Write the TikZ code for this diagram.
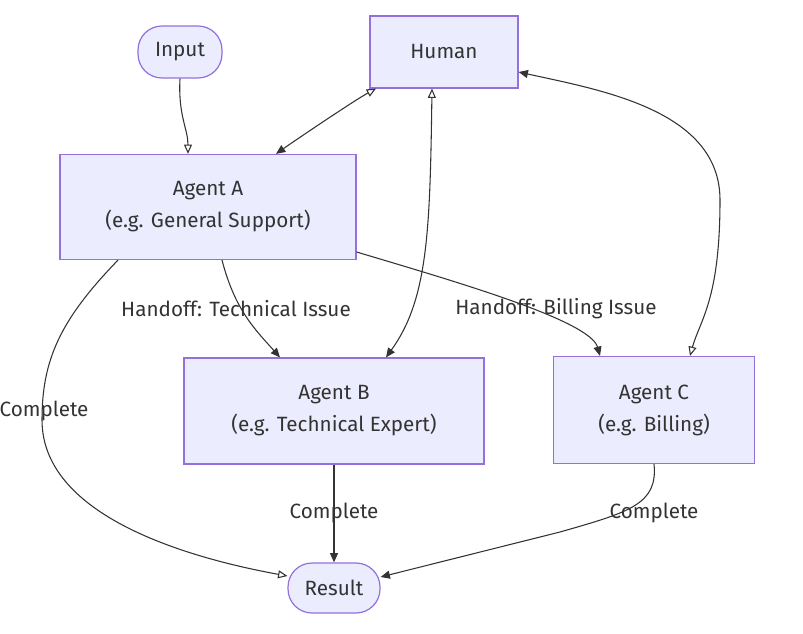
\documentclass[tikz,border=0pt]{standalone}
\usepackage{fontspec}
\setmainfont{Fira Sans}
\usetikzlibrary{arrows.meta,calc}
\definecolor{nodefill}{HTML}{ECECFF}
\definecolor{nodeline}{HTML}{9370DB}
\definecolor{ink}{HTML}{333333}
\begin{document}
\begin{tikzpicture}[x=0.75pt,y=-0.75pt,
  base/.style={draw=nodeline, fill=nodefill, line width=0.9pt, text=ink, align=center,
    font=\fontsize{15.5}{24}\selectfont, inner sep=0pt},
  boxnode/.style={base, rectangle},
  pill/.style={base, rounded corners=18pt},
  lbl/.style={text=ink, font=\fontsize{15.5}{16}\selectfont, inner sep=1pt},
  conn/.style={draw=ink, line width=0.8pt},
  fa/.style={conn, -{Triangle[length=7pt,width=6pt]}},
  oa/.style={conn, -{Triangle[open,length=7pt,width=6pt]}},
  ofa/.style={conn, {Triangle[open,length=7pt,width=6pt]}-{Triangle[length=7pt,width=6pt]}},
  ffo/.style={conn, {Triangle[length=7pt,width=6pt]}-{Triangle[open,length=7pt,width=6pt]}}
]
\useasboundingbox (0,0) rectangle (803,634);

\node[pill, minimum width=63pt, minimum height=39pt] (in) at (180,52) {Input};
\node[boxnode, minimum width=111pt, minimum height=54pt] (h) at (444,52) {Human};
\node[boxnode, minimum width=222pt, minimum height=78.75pt] (a) at (208,207) {Agent A\\(e.g. General Support)};
\node[boxnode, minimum width=225pt, minimum height=79.5pt] (b) at (334,411) {Agent B\\(e.g. Technical Expert)};
\node[boxnode, minimum width=150.75pt, minimum height=80.25pt] (c) at (654,410) {Agent C\\(e.g. Billing)};
\node[pill, minimum width=69pt, minimum height=37.5pt] (r) at (334,588) {Result};

% Input -> A
\draw[oa] (in.south) .. controls ($(in.south)+(-2,37)$) and ($(a.north)+(-20,-25)$) .. ($(a.north)+(-20,0)$);
% Human <-> A
\draw[ofa] ($(h.south)+(-68,0)$) .. controls ($(h.south)+(-90,12)$) and ($(a.north)+(85,-12)$) .. ($(a.north)+(68,0)$);
% Human <-> B
\draw[ofa] ($(h.south)+(-12,0)$) .. controls ($(h.south)+(-14,142)$) and ($(b.north)+(94,-58)$) .. ($(b.north)+(52,0)$);
% Human <-> C
\draw[ffo] ($(h.east)+(0,20)$) .. controls (600,90) and (720,110) .. (720,200)
  .. controls (720,300) and (700,320) .. ($(c.north)+(36,0)$);
% A -> B
\draw[fa] ($(a.south)+(14,0)$) .. controls ($(a.south)+(27,50)$) and ($(b.north)+(-79,-28)$) .. ($(b.north)+(-54,0)$);
\node[lbl] (l1) at (236,309) {Handoff: Technical Issue};
% A -> C
\draw[fa] ($(a.east)+(0,45)$) .. controls (450,280) and (590,320) .. ($(c.north)+(-54,0)$);
\node[lbl] (l2) at (556,309) {Handoff: Billing Issue};
% A -> Result
\draw[oa] ($(a.south)+(-90,0)$) .. controls (60,320) and (42,360) .. (42,420)
  .. controls (42,520) and (200,560) .. ($(r.west)+(0,-12)$);
\node[lbl] (l3) at (44,411) {Complete};
% B -> Result
\draw[fa] (b.south) -- (r.north);
\node[lbl] (l4) at (334,513) {Complete};
% C -> Result
\draw[fa] (c.south) .. controls ($(c.south)+(4,40)$) and (630,512) .. (560,532)
  -- ($(r.east)+(0,-11)$);
\node[lbl] (l5) at (654,513) {Complete};
\end{tikzpicture}
\end{document}
